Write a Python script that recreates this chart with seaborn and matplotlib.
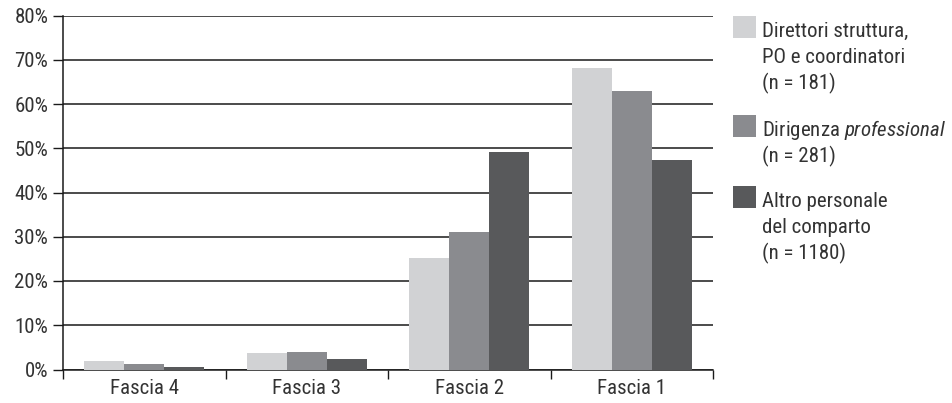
import matplotlib
matplotlib.use("Agg")
import matplotlib.pyplot as plt
from matplotlib import font_manager
from matplotlib.patches import Rectangle
from matplotlib.ticker import FixedLocator, PercentFormatter
import seaborn as sns
import pandas as pd

# Distribution of staff across pay bands (share of each group, %)
categories = ["Fascia 4", "Fascia 3", "Fascia 2", "Fascia 1"]
groups = ["Direttori", "Professional", "Altro"]
direttori = [2.0, 3.7, 25.2, 68.1]
professional = [1.3, 3.9, 31.1, 63.0]
altro = [0.5, 2.3, 49.2, 47.4]
legend_labels = [
    ["Direttori struttura,", "PO e coordinatori", "(n = 181)"],
    ["Dirigenza $\\mathit{professional}$", "(n = 281)"],
    ["Altro personale", "del comparto", "(n = 1180)"],
]
colors = ["#d1d2d4", "#8a8b8f", "#58595b"]
y_ticks = [0, 10, 20, 30, 40, 50, 60, 70, 80]

df = pd.DataFrame({
    "fascia": categories * 3,
    "gruppo": [g for g in groups for _ in categories],
    "valore": direttori + professional + altro,
})

sns.set_theme(style="white")

# prefer a condensed sans face, fall back to regular ones
installed = {f.name for f in font_manager.fontManager.ttflist}
font = next((f for f in ["Liberation Sans Narrow", "Roboto Condensed",
                         "DejaVu Sans Condensed", "Liberation Sans", "Roboto"]
             if f in installed), "DejaVu Sans")
condensed = font in ("Liberation Sans Narrow", "Roboto Condensed")
plt.rcParams["font.family"] = [font, "DejaVu Sans"]
plt.rcParams["mathtext.fontset"] = "custom"
plt.rcParams["mathtext.rm"] = font
plt.rcParams["mathtext.it"] = font + ":italic"
size = 15 if condensed else 12.5

text_color = "#333333"
fig = plt.figure(figsize=(9.52, 4.03), dpi=100)
ax = fig.add_axes([63 / 952, 1 - 369.5 / 403, 650 / 952, (369.5 - 15.5) / 403])

sns.barplot(data=df, x="fascia", y="valore", hue="gruppo", order=categories,
            hue_order=groups, palette=colors, width=0.74, saturation=1,
            linewidth=0, legend=False, ax=ax, zorder=3)

ax.set_xlim(-0.5, 3.5)
ax.set_ylim(0, 80)
ax.set_yticks(y_ticks)
ax.yaxis.set_major_formatter(PercentFormatter(decimals=0))
ax.grid(axis="y", color="#1a1a1a", linewidth=1.1, zorder=0)
ax.set_axisbelow(True)

# group boundaries carry the tick marks, labels sit at the group centres
ax.xaxis.set_major_locator(FixedLocator([-0.5, 0.5, 1.5, 2.5, 3.5]))
ax.xaxis.set_major_formatter(plt.NullFormatter())
ax.xaxis.set_minor_locator(FixedLocator([0, 1, 2, 3]))
ax.set_xticklabels(categories, minor=True)
ax.tick_params(axis="x", which="major", direction="out", length=6.5, width=1,
               color="#1a1a1a", bottom=True)
ax.tick_params(axis="x", which="minor", length=0, pad=6.5, labelsize=size,
               labelcolor=text_color)
ax.tick_params(axis="y", direction="out", length=7.2, width=1, color="#1a1a1a",
               left=True, pad=3.5, labelsize=size, labelcolor=text_color)

ax.set_xlabel("")
ax.set_ylabel("")
for side in ["top", "right"]:
    ax.spines[side].set_visible(False)
for side in ["left", "bottom"]:
    ax.spines[side].set_color("#1a1a1a")
    ax.spines[side].set_linewidth(1.1)

# legend drawn beside the plot, swatch aligned with the first text line
W, H = 952, 403
tops = [16, 115, 186]
line_step = 26
for top, col, lines in zip(tops, colors, legend_labels):
    fig.patches.append(Rectangle((733 / W, 1 - (top + 22) / H), 23 / W, 22 / H,
                                 transform=fig.transFigure, facecolor=col,
                                 edgecolor="none"))
    for i, line in enumerate(lines):
        fig.text(762 / W, 1 - (top + 21 + i * line_step) / H, line,
                 ha="left", va="baseline", fontsize=size, color=text_color)

fig.savefig("out.png", dpi=100)
